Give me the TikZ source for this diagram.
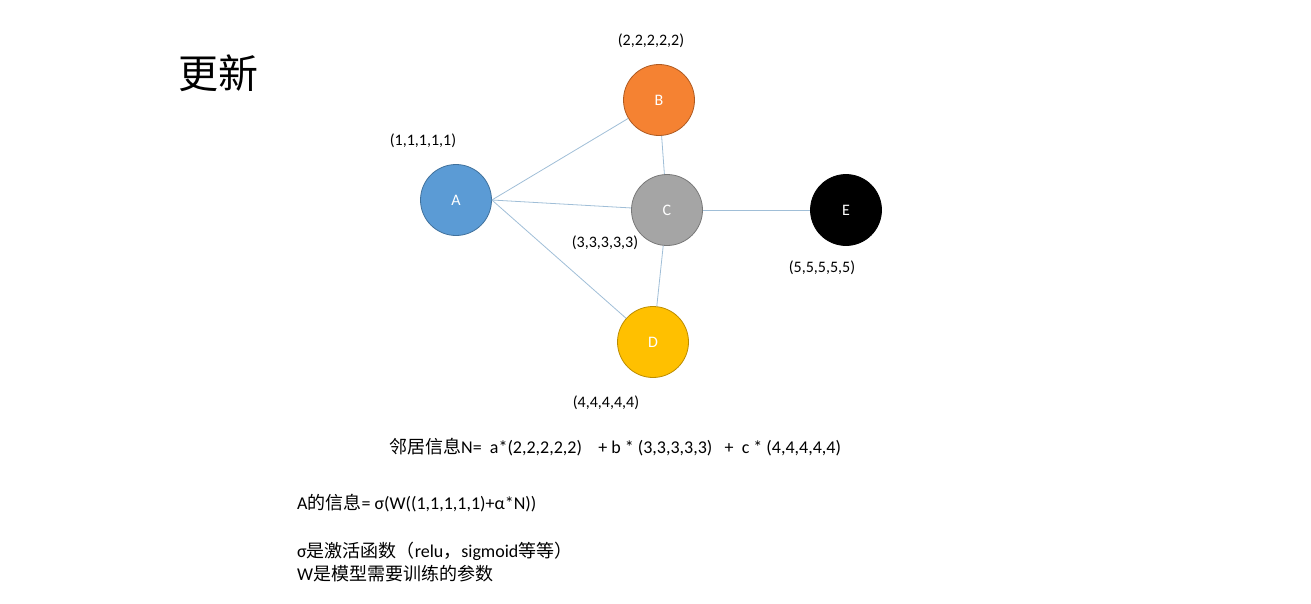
\documentclass[tikz,border=0pt]{standalone}
\usepackage{fontspec}
\setmainfont{Carlito}
\newfontfamily\cjk{Noto Sans CJK SC}
\begin{document}
\begin{tikzpicture}[x=1pt,y=-1pt,
  nd/.style={circle,minimum size=71pt,inner sep=0pt,line width=0.8pt,font=\fontsize{16}{18}\selectfont,text=white},
  edge/.style={draw={rgb,255:red,160;green,190;blue,215},line width=0.8pt},
  lab/.style={font=\fontsize{16}{18}\selectfont,inner sep=0pt},
  txt/.style={font=\fontsize{18}{20}\selectfont,inner sep=0pt,anchor=west}]
\useasboundingbox (0,0) rectangle (1311,603);
\node[nd,fill={rgb,255:red,91;green,155;blue,213},draw={rgb,255:red,65;green,113;blue,156}] (A) at (456,200) {A};
\node[nd,fill={rgb,255:red,245;green,130;blue,50},draw={rgb,255:red,174;green,90;blue,33}] (B) at (659,100) {B};
\node[nd,fill={rgb,255:red,165;green,165;blue,165},draw={rgb,255:red,120;green,120;blue,120}] (C) at (667,210) {C};
\node[nd,fill={rgb,255:red,255;green,192;blue,0},draw={rgb,255:red,188;green,140;blue,0}] (D) at (653,342) {D};
\node[nd,fill=black,draw=black] (E) at (846,210) {E};
\draw[edge] (A.east) -- (B);
\draw[edge] (A.east) -- (C);
\draw[edge] (A.east) -- (D);
\draw[edge] (B) -- (C);
\draw[edge] (C) -- (D);
\draw[edge] (C) -- (E);
\node[lab] (lb) at (651,41) {(2,2,2,2,2)};
\node[lab] (la) at (423,141) {(1,1,1,1,1)};
\node[lab] (lc) at (605,243) {(3,3,3,3,3)};
\node[lab] (le) at (822,268) {(5,5,5,5,5)};
\node[lab] (ld) at (606,403) {(4,4,4,4,4)};
\node[inner sep=0pt,anchor=west,font=\cjk\fontsize{40}{44}\selectfont] (title) at (178,73) {更新};
\node[txt] (f1) at (389,447) {{\cjk 邻居信息}N=\ \ a*(2,2,2,2,2)\ \ \ \ + b * (3,3,3,3,3)\ \ \ +\ \ c * (4,4,4,4,4)};
\node[txt] (f2) at (297,503) {A{\cjk 的信息}= σ(W((1,1,1,1,1)+α*N))};
\node[txt] (f3) at (297,551) {σ{\cjk 是激活函数（}relu{\cjk ，}sigmoid{\cjk 等等）}};
\node[txt] (f4) at (297,574) {W{\cjk 是模型需要训练的参数}};
\end{tikzpicture}
\end{document}
